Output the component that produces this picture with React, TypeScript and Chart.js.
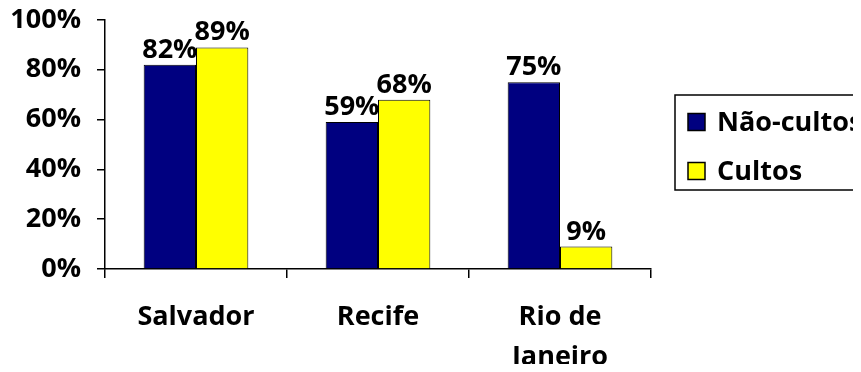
import React, { useEffect, useRef } from "react";
import { Chart, registerables } from "chart.js";

Chart.register(...registerables);

const categories: (string | string[])[] = ["Salvador", "Recife", ["Rio de", "Janeiro"]];
const naoCultos = [82, 59, 75];
const cultos = [89, 68, 9];
const seriesNames = ["Não-cultos", "Cultos"];
const seriesColors = ["#000080", "#FFFF00"];
const yTicks = [0, 20, 40, 60, 80, 100];

const FONT = "'Open Sans'";
const FS = 27;

const valueLabels = {
  id: "valueLabels",
  afterDatasetsDraw(chart: any) {
    const ctx = chart.ctx;
    ctx.save();
    ctx.font = `bold ${FS}px ${FONT}`;
    ctx.fillStyle = "#000";
    ctx.textAlign = "center";
    ctx.textBaseline = "alphabetic";
    chart.data.datasets.forEach((ds: any, i: number) => {
      const meta = chart.getDatasetMeta(i);
      meta.data.forEach((bar: any, j: number) => {
        ctx.fillText(`${ds.data[j]}%`, bar.x, bar.y - 7);
      });
    });
    ctx.restore();
  },
};

const boxLegend = {
  id: "boxLegend",
  afterDraw(chart: any) {
    const ctx = chart.ctx;
    const left = 675;
    const top = 95;
    const bottom = 190;
    ctx.save();
    ctx.strokeStyle = "#000";
    ctx.lineWidth = 1.5;
    ctx.strokeRect(left, top, 300, bottom - top);
    ctx.font = `bold ${FS}px ${FONT}`;
    ctx.textBaseline = "middle";
    ctx.textAlign = "left";
    chart.data.datasets.forEach((ds: any, i: number) => {
      const cy = 122 + i * 49;
      ctx.fillStyle = ds.backgroundColor;
      ctx.fillRect(688, cy - 8.5, 17, 17);
      ctx.lineWidth = 1.5;
      ctx.strokeStyle = "#000";
      ctx.strokeRect(688, cy - 8.5, 17, 17);
      ctx.fillStyle = "#000";
      ctx.fillText(ds.label, 717, cy + 1);
    });
    ctx.restore();
  },
};

export default function App() {
  const ref = useRef<HTMLCanvasElement>(null);
  useEffect(() => {
    if (!ref.current) return;
    const chart = new Chart(ref.current, {
      type: "bar",
      data: {
        labels: categories,
        datasets: [
          {
            label: seriesNames[0],
            data: naoCultos,
            backgroundColor: seriesColors[0],
            borderColor: "#000",
            borderWidth: 1,
            categoryPercentage: 0.575,
            barPercentage: 1,
          },
          {
            label: seriesNames[1],
            data: cultos,
            backgroundColor: seriesColors[1],
            borderColor: "#000",
            borderWidth: 1,
            categoryPercentage: 0.575,
            barPercentage: 1,
          },
        ],
      },
      options: {
        responsive: false,
        animation: false,
        layout: { padding: { left: 0, right: 249, top: 20, bottom: 0 } },
        plugins: {
          legend: { display: false },
          tooltip: { enabled: false },
        },
        scales: {
          x: {
            grid: {
              display: true,
              drawOnChartArea: false,
              drawTicks: true,
              tickLength: 9,
              color: "#000",
              lineWidth: 1.5,
            },
            border: { display: true, color: "#000", width: 1.5 },
            ticks: {
              color: "#000",
              font: { family: FONT, weight: "bold", size: FS, lineHeight: 1.48 },
              padding: 19.5,
              maxRotation: 0,
              autoSkip: false,
            },
            afterFit(scale: any) {
              scale.height = 103;
            },
          },
          y: {
            min: 0,
            max: 100,
            afterBuildTicks(scale: any) {
              scale.ticks = yTicks.map((v) => ({ value: v }));
            },
            grid: {
              display: true,
              drawOnChartArea: false,
              drawTicks: true,
              tickLength: 8,
              color: "#000",
              lineWidth: 1.5,
            },
            border: { display: true, color: "#000", width: 1.5 },
            ticks: {
              color: "#000",
              font: { family: FONT, weight: "bold", size: FS },
              padding: 16,
              callback: (v: any) => `${v}%`,
            },
            afterFit(scale: any) {
              scale.width = 105;
              scale.paddingTop = 0;
              scale.paddingBottom = 0;
            },
          },
        },
      },
      plugins: [valueLabels, boxLegend],
    });
    return () => chart.destroy();
  }, []);
  return (
    <div style={{ margin: "-8px", width: 861, height: 372, overflow: "hidden", background: "#fff" }}>
      <canvas ref={ref} width={900} height={372} style={{ display: "block" }} />
    </div>
  );
}
